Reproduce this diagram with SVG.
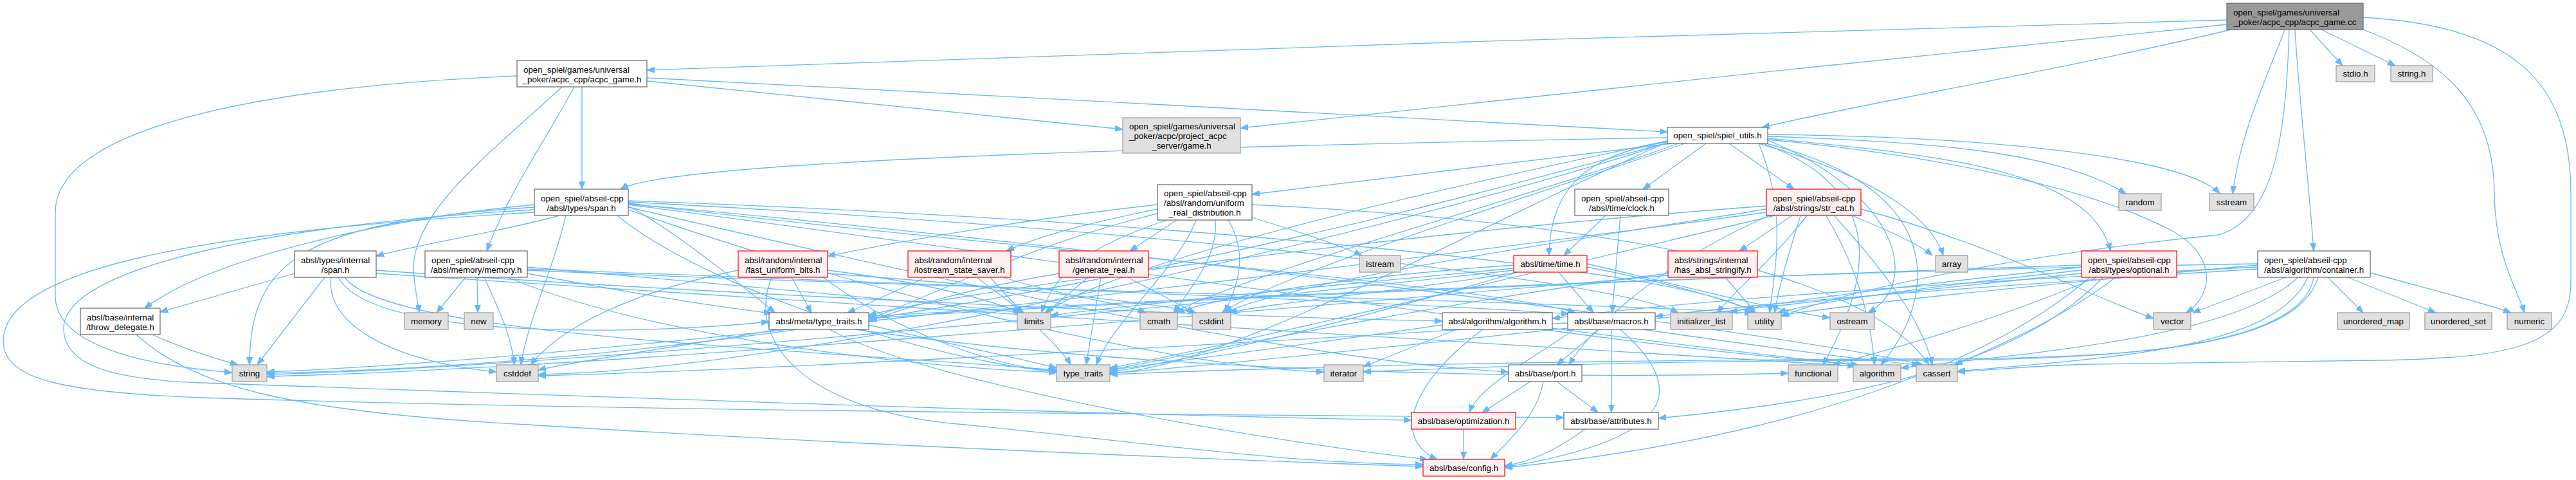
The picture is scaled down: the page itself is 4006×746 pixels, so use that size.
<svg xmlns="http://www.w3.org/2000/svg" width="4006" height="746" viewBox="0 0 4006 746">
<style>
text{font-family:"Liberation Sans",Arial,sans-serif;font-size:13.3px;fill:#000}
.c{text-anchor:middle}
.w rect{fill:#fff;stroke:#666;stroke-width:1.2}
.g rect{fill:#e0e0e0;stroke:#999;stroke-width:1.2}
.r rect{fill:#fff0f0;stroke:#f00;stroke-width:1.2}
.root rect{fill:#999;stroke:#666;stroke-width:1.2}
#edges path{fill:none;stroke:#63b8ff;stroke-width:1.3;marker-end:url(#ah)}
</style>
<defs>
<marker id="ah" viewBox="0 0 12 10" refX="12" refY="5" markerWidth="12" markerHeight="10" markerUnits="userSpaceOnUse" orient="auto"><path d="M0,0.5 L12,5 L0,9.5 z" fill="#63b8ff" stroke="#63b8ff" stroke-width="1"/></marker>
</defs>
<rect width="4006" height="746" fill="#fff"/>
<g id="edges">
<path d="M3463,31 C2800,45 1600,88 1006,109"/>
<path d="M3463,38 C3000,85 2300,158 1929,199"/>
<path d="M3470,46 C3200,110 2900,160 2740,198"/>
<path d="M3592,46 L3643,102"/>
<path d="M3610,46 L3725,102"/>
<path d="M3553,46 C3530,110 3485,200 3472,301"/>
<path d="M3569,46 C3575,150 3592,300 3598,390"/>
<path d="M3560,46 C3555,200 3540,340 3450,365 C3200,390 2900,440 2770,492"/>
<path d="M3675,46 C3820,100 3878,180 3879,300 C3880,400 3915,450 3926,486"/>
<path d="M3675,27 C3900,40 3998,120 3998,300 L3998,440 C3998,540 3900,556 3700,560 L3250,566 C3150,569 3100,575 3044,578"/>
<path d="M1006,126 C1300,155 1550,180 1746,201"/>
<path d="M1006,121 C1500,145 2200,185 2593,205"/>
<path d="M905,135 L905,294"/>
<path d="M893,135 C850,215 790,300 757,390"/>
<path d="M874,135 C760,240 640,330 643,420 C645,450 650,470 652,486"/>
<path d="M804,118 C400,135 86,200 86,330 L86,460 C86,530 200,566 361,579"/>
<path d="M2593,214 C2000,225 1050,245 965,294"/>
<path d="M2600,223 L1947,302"/>
<path d="M2653,223 L2555,294"/>
<path d="M2689,223 L2790,294"/>
<path d="M2595,220 C2470,240 2410,290 2409,397"/>
<path d="M2749,215 C3000,240 3250,260 3282,390"/>
<path d="M2749,212 C3000,220 3200,235 3306,301"/>
<path d="M2749,209 C3100,212 3400,245 3452,301"/>
<path d="M2735,223 C2900,270 3000,330 3022,397"/>
<path d="M2749,217 C3000,240 3250,290 3380,360 C3450,400 3440,460 3400,486"/>
<path d="M2593,222 C2300,300 1400,560 415,580"/>
<path d="M2593,222 C2300,320 1300,575 837,582"/>
<path d="M2620,223 C2400,300 2000,420 1900,486"/>
<path d="M2610,223 C2400,300 1950,420 1825,486"/>
<path d="M2593,221 C2300,350 1900,575 1726,580"/>
<path d="M2735,223 C2780,330 2760,420 2752,486"/>
<path d="M2742,223 C2950,300 2900,450 2835,567"/>
<path d="M2747,223 C3050,300 3000,480 2925,567"/>
<path d="M2593,219 C2300,280 1750,400 1625,486"/>
<path d="M2749,218 C2950,300 2990,440 2905,486"/>
<path d="M870,335 C780,360 650,380 585,398"/>
<path d="M831,318 C600,340 330,400 225,479"/>
<path d="M831,322 C480,345 388,400 388,567"/>
<path d="M880,335 C860,420 820,500 810,567"/>
<path d="M977,320 C1050,360 1150,440 1205,486"/>
<path d="M977,316 C1500,380 2300,440 2450,486"/>
<path d="M977,322 C1400,420 2000,560 2346,578"/>
<path d="M977,326 C1300,440 1800,570 2059,578"/>
<path d="M960,335 C1100,450 1450,560 1643,578"/>
<path d="M977,318 C1600,400 2600,540 2890,567"/>
<path d="M977,317 C1700,380 2800,520 2990,567"/>
<path d="M977,314 C1700,350 2500,430 2610,486"/>
<path d="M977,312 C1800,340 2650,420 2725,486"/>
<path d="M831,326 C400,350 99,420 99,510 C99,570 180,590 314,595 C900,615 1700,645 2195,653"/>
<path d="M831,330 C300,360 5,420 5,530 C5,590 100,610 314,618 C1000,640 2000,645 2432,649"/>
<path d="M212,520 C300,600 450,640 820,660 C1300,690 1900,715 2213,725"/>
<path d="M237,520 C280,540 330,556 370,567"/>
<path d="M458,425 L249,485"/>
<path d="M505,431 L400,567"/>
<path d="M515,431 C505,500 600,560 772,578"/>
<path d="M526,431 C580,530 1000,520 1196,500"/>
<path d="M536,431 C600,520 1200,540 1643,575"/>
<path d="M585,420 C1000,450 1800,490 2243,499"/>
<path d="M585,425 C1200,470 2500,540 2885,569"/>
<path d="M724,431 L679,486"/>
<path d="M742,431 L743,486"/>
<path d="M753,431 C775,480 795,520 800,567"/>
<path d="M820,415 C1100,440 1450,470 1590,486"/>
<path d="M790,431 C1000,520 1400,570 1643,579"/>
<path d="M820,420 C1500,450 2500,470 2725,487"/>
<path d="M820,418 C1400,440 2200,470 2440,488"/>
<path d="M820,425 C950,450 1100,475 1200,487"/>
<path d="M1800,318 C1600,340 1400,375 1287,398"/>
<path d="M1800,325 C1700,345 1620,365 1565,390"/>
<path d="M1830,342 L1757,390"/>
<path d="M1947,338 C2020,360 2080,380 2118,397"/>
<path d="M1890,342 C1895,400 1850,450 1825,486"/>
<path d="M1910,342 C1945,400 1920,450 1905,486"/>
<path d="M1815,342 C1700,380 1640,420 1620,486"/>
<path d="M1860,342 C1830,420 1730,500 1705,567"/>
<path d="M1800,332 C1600,380 1450,460 1351,496"/>
<path d="M1947,318 C2500,345 2900,420 3000,567"/>
<path d="M1148,420 C1000,450 880,500 825,567"/>
<path d="M1231,431 L1262,486"/>
<path d="M1200,431 C1160,530 1250,640 1500,660 C1800,690 2000,720 2213,722"/>
<path d="M1287,420 C1450,440 1550,470 1587,486"/>
<path d="M1280,431 C1400,520 1550,570 1643,577"/>
<path d="M1287,425 C1500,440 1800,470 1860,486"/>
<path d="M1440,431 L1318,486"/>
<path d="M1519,431 L1592,486"/>
<path d="M1560,431 C1650,460 1740,470 1782,486"/>
<path d="M1540,431 C1600,500 1650,540 1665,567"/>
<path d="M1692,431 L1627,486"/>
<path d="M1712,431 L1689,567"/>
<path d="M1754,431 L1858,486"/>
<path d="M1647,425 C1500,450 1400,480 1351,500"/>
<path d="M1210,512 C1050,540 900,560 837,575"/>
<path d="M1351,505 C1500,540 1600,560 1643,572"/>
<path d="M1330,512 C1800,580 2400,590 2781,580"/>
<path d="M1290,512 C1450,600 2000,690 2220,714"/>
<path d="M2265,512 L2120,570"/>
<path d="M2306,512 C2200,590 2160,680 2235,714"/>
<path d="M2243,505 C2000,540 1800,565 1726,575"/>
<path d="M2400,512 C2600,540 2800,560 2890,567"/>
<path d="M2506,512 L2506,641"/>
<path d="M2487,512 L2421,567"/>
<path d="M2448,512 C2380,560 2300,600 2285,641"/>
<path d="M2520,512 C2620,600 2620,680 2340,726"/>
<path d="M2555,512 C2750,540 2900,560 2985,567"/>
<path d="M2438,502 C2000,530 1200,575 837,584"/>
<path d="M2421,593 L2485,641"/>
<path d="M2380,593 L2305,641"/>
<path d="M2400,593 C2390,650 2340,690 2318,714"/>
<path d="M2276,667 L2276,714"/>
<path d="M2465,667 C2420,700 2380,718 2340,724"/>
<path d="M2497,335 L2432,397"/>
<path d="M2520,335 L2507,486"/>
<path d="M2424,423 L2478,486"/>
<path d="M2468,410 C2600,440 2750,480 2846,494"/>
<path d="M2468,415 C2600,440 2700,470 2730,486"/>
<path d="M2354,412 C2100,430 1900,460 1830,486"/>
<path d="M2360,423 C2200,450 1980,470 1912,486"/>
<path d="M2354,417 C2100,440 1800,470 1634,490"/>
<path d="M2354,420 C1900,470 900,570 415,582"/>
<path d="M2360,423 C2100,500 1850,560 1726,578"/>
<path d="M2787,335 L2705,390"/>
<path d="M2880,335 C2940,360 2985,380 3005,397"/>
<path d="M2894,325 C3100,380 3250,460 3349,495"/>
<path d="M2800,335 C2780,400 2765,450 2760,486"/>
<path d="M2747,325 C2400,380 2000,440 1905,486"/>
<path d="M2747,330 C2000,430 900,560 415,578"/>
<path d="M2752,335 C2600,400 2480,500 2440,567"/>
<path d="M2760,335 C2400,420 1900,540 1726,572"/>
<path d="M2747,320 C2200,360 1500,450 1351,490"/>
<path d="M2852,335 C2930,420 2990,500 3005,567"/>
<path d="M2840,335 C2890,420 2910,500 2915,567"/>
<path d="M2810,335 C2760,400 2700,450 2670,486"/>
<path d="M2683,431 L2730,486"/>
<path d="M2594,425 C2300,460 1900,540 1726,575"/>
<path d="M2594,428 C2000,480 900,575 415,585"/>
<path d="M3250,431 C3100,560 2800,680 2340,727"/>
<path d="M3270,431 C3150,560 2900,620 2579,650"/>
<path d="M3290,431 C3200,500 3100,540 3040,567"/>
<path d="M3260,431 C3100,500 2950,540 2850,567"/>
<path d="M3237,415 C3000,440 2750,470 2690,486"/>
<path d="M3237,420 C3000,445 2820,470 2765,486"/>
<path d="M3237,425 C2800,470 2000,560 1726,580"/>
<path d="M3237,412 C2700,430 1700,470 1351,495"/>
<path d="M3555,431 L3410,486"/>
<path d="M3620,431 L3675,486"/>
<path d="M3651,431 L3788,486"/>
<path d="M3686,424 C3780,450 3860,470 3905,486"/>
<path d="M3574,431 C3480,520 3200,545 2956,572"/>
<path d="M3589,431 C3540,540 3300,555 3044,577"/>
<path d="M3598,431 C3580,540 3300,560 2960,560 C2600,560 2300,570 2120,578"/>
<path d="M3605,431 C3570,545 3300,558 2960,558 C2300,560 1900,575 1726,582"/>
<path d="M3511,412 C3200,440 2900,470 2770,490"/>
<path d="M3511,415 C3000,440 2600,470 2414,495"/>
<path d="M3511,418 C3000,450 2700,475 2574,492"/>
<path d="M3511,410 C2800,420 1700,470 1351,492"/>
</g>
<g id="n1" class="root"><rect x="3463" y="5" width="212" height="41"/><text x="3473" y="23.5">open_spiel/games/universal</text><text class="c" x="3569" y="38.5">_poker/acpc_cpp/acpc_game.cc</text></g>
<g id="n2" class="g"><rect x="3633" y="102" width="60" height="25"/><text class="c" x="3663" y="119">stdio.h</text></g>
<g id="n3" class="g"><rect x="3718" y="102" width="65" height="25"/><text class="c" x="3750.5" y="119">string.h</text></g>
<g id="n4" class="w"><rect x="804" y="94" width="202" height="41"/><text x="814" y="112.5">open_spiel/games/universal</text><text class="c" x="905" y="127.5">_poker/acpc_cpp/acpc_game.h</text></g>
<g id="n5" class="g"><rect x="1746" y="183" width="183" height="55"/><text x="1756" y="200.5">open_spiel/games/universal</text><text x="1756" y="215.5">_poker/acpc/project_acpc</text><text class="c" x="1837.5" y="230.5">_server/game.h</text></g>
<g id="n6" class="w"><rect x="2593" y="198" width="156" height="25"/><text class="c" x="2671" y="215">open_spiel/spiel_utils.h</text></g>
<g id="n7" class="w"><rect x="831" y="294" width="146" height="41"/><text x="841" y="312.5">open_spiel/abseil-cpp</text><text class="c" x="904" y="327.5">/absl/types/span.h</text></g>
<g id="n8" class="w"><rect x="1800" y="287" width="147" height="55"/><text x="1810" y="304.5">open_spiel/abseil-cpp</text><text x="1810" y="319.5">/absl/random/uniform</text><text class="c" x="1873.5" y="334.5">_real_distribution.h</text></g>
<g id="n9" class="w"><rect x="2449" y="294" width="146" height="41"/><text x="2459" y="312.5">open_spiel/abseil-cpp</text><text class="c" x="2522" y="327.5">/absl/time/clock.h</text></g>
<g id="n10" class="r"><rect x="2747" y="294" width="147" height="41"/><text x="2757" y="312.5">open_spiel/abseil-cpp</text><text class="c" x="2820.5" y="327.5">/absl/strings/str_cat.h</text></g>
<g id="n11" class="g"><rect x="3295" y="301" width="66" height="26"/><text class="c" x="3328" y="318.5">random</text></g>
<g id="n12" class="g"><rect x="3436" y="301" width="69" height="26"/><text class="c" x="3470.5" y="318.5">sstream</text></g>
<g id="n13" class="w"><rect x="458" y="390" width="127" height="41"/><text x="468" y="408.5">absl/types/internal</text><text class="c" x="521.5" y="423.5">/span.h</text></g>
<g id="n14" class="w"><rect x="661" y="390" width="159" height="41"/><text x="671" y="408.5">open_spiel/abseil-cpp</text><text class="c" x="740.5" y="423.5">/absl/memory/memory.h</text></g>
<g id="n15" class="r"><rect x="1148" y="390" width="139" height="41"/><text x="1158" y="408.5">absl/random/internal</text><text class="c" x="1217.5" y="423.5">/fast_uniform_bits.h</text></g>
<g id="n16" class="r"><rect x="1412" y="390" width="160" height="41"/><text x="1422" y="408.5">absl/random/internal</text><text class="c" x="1492" y="423.5">/iostream_state_saver.h</text></g>
<g id="n17" class="r"><rect x="1647" y="390" width="139" height="41"/><text x="1657" y="408.5">absl/random/internal</text><text class="c" x="1716.5" y="423.5">/generate_real.h</text></g>
<g id="n18" class="g"><rect x="2114" y="397" width="64" height="26"/><text class="c" x="2146" y="414.5">istream</text></g>
<g id="n19" class="r"><rect x="2354" y="397" width="114" height="26"/><text class="c" x="2411" y="414.5">absl/time/time.h</text></g>
<g id="n20" class="r"><rect x="2594" y="390" width="139" height="41"/><text x="2604" y="408.5">absl/strings/internal</text><text class="c" x="2663.5" y="423.5">/has_absl_stringify.h</text></g>
<g id="n21" class="g"><rect x="3010" y="397" width="50" height="26"/><text class="c" x="3035" y="414.5">array</text></g>
<g id="n22" class="r"><rect x="3237" y="390" width="148" height="41"/><text x="3247" y="408.5">open_spiel/abseil-cpp</text><text class="c" x="3311" y="423.5">/absl/types/optional.h</text></g>
<g id="n23" class="w"><rect x="3511" y="390" width="175" height="41"/><text x="3521" y="408.5">open_spiel/abseil-cpp</text><text class="c" x="3598.5" y="423.5">/absl/algorithm/container.h</text></g>
<g id="n24" class="w"><rect x="125" y="479" width="124" height="41"/><text x="135" y="497.5">absl/base/internal</text><text class="c" x="187" y="512.5">/throw_delegate.h</text></g>
<g id="n25" class="g"><rect x="629" y="486" width="68" height="26"/><text class="c" x="663" y="503.5">memory</text></g>
<g id="n26" class="g"><rect x="722" y="486" width="45" height="26"/><text class="c" x="744.5" y="503.5">new</text></g>
<g id="n27" class="w"><rect x="1196" y="486" width="155" height="26"/><text class="c" x="1273.5" y="503.5">absl/meta/type_traits.h</text></g>
<g id="n28" class="g"><rect x="1582" y="486" width="52" height="26"/><text class="c" x="1608" y="503.5">limits</text></g>
<g id="n29" class="g"><rect x="1773" y="486" width="58" height="26"/><text class="c" x="1802" y="503.5">cmath</text></g>
<g id="n30" class="g"><rect x="1854" y="486" width="60" height="26"/><text class="c" x="1884" y="503.5">cstdint</text></g>
<g id="n31" class="w"><rect x="2243" y="486" width="171" height="26"/><text class="c" x="2328.5" y="503.5">absl/algorithm/algorithm.h</text></g>
<g id="n32" class="w"><rect x="2438" y="486" width="136" height="26"/><text class="c" x="2506" y="503.5">absl/base/macros.h</text></g>
<g id="n33" class="g"><rect x="2598" y="486" width="96" height="26"/><text class="c" x="2646" y="503.5">initializer_list</text></g>
<g id="n34" class="g"><rect x="2718" y="486" width="52" height="26"/><text class="c" x="2744" y="503.5">utility</text></g>
<g id="n35" class="g"><rect x="2846" y="486" width="69" height="26"/><text class="c" x="2880.5" y="503.5">ostream</text></g>
<g id="n36" class="g"><rect x="3349" y="486" width="58" height="26"/><text class="c" x="3378" y="503.5">vector</text></g>
<g id="n37" class="g"><rect x="3635" y="486" width="112" height="26"/><text class="c" x="3691" y="503.5">unordered_map</text></g>
<g id="n38" class="g"><rect x="3771" y="486" width="104" height="26"/><text class="c" x="3823" y="503.5">unordered_set</text></g>
<g id="n39" class="g"><rect x="3899" y="486" width="69" height="26"/><text class="c" x="3933.5" y="503.5">numeric</text></g>
<g id="n40" class="g"><rect x="361" y="567" width="54" height="26"/><text class="c" x="388" y="584.5">string</text></g>
<g id="n41" class="g"><rect x="772" y="567" width="65" height="26"/><text class="c" x="804.5" y="584.5">cstddef</text></g>
<g id="n42" class="g"><rect x="1643" y="567" width="83" height="26"/><text class="c" x="1684.5" y="584.5">type_traits</text></g>
<g id="n43" class="g"><rect x="2059" y="567" width="61" height="26"/><text class="c" x="2089.5" y="584.5">iterator</text></g>
<g id="n44" class="w"><rect x="2346" y="567" width="114" height="26"/><text class="c" x="2403" y="584.5">absl/base/port.h</text></g>
<g id="n45" class="g"><rect x="2781" y="567" width="77" height="26"/><text class="c" x="2819.5" y="584.5">functional</text></g>
<g id="n46" class="g"><rect x="2882" y="567" width="74" height="26"/><text class="c" x="2919" y="584.5">algorithm</text></g>
<g id="n47" class="g"><rect x="2980" y="567" width="64" height="26"/><text class="c" x="3012" y="584.5">cassert</text></g>
<g id="n48" class="r"><rect x="2195" y="641" width="162" height="26"/><text class="c" x="2276" y="658.5">absl/base/optimization.h</text></g>
<g id="n49" class="w"><rect x="2432" y="641" width="147" height="26"/><text class="c" x="2505.5" y="658.5">absl/base/attributes.h</text></g>
<g id="n50" class="r"><rect x="2213" y="714" width="127" height="26"/><text class="c" x="2276.5" y="731.5">absl/base/config.h</text></g>
</svg>
